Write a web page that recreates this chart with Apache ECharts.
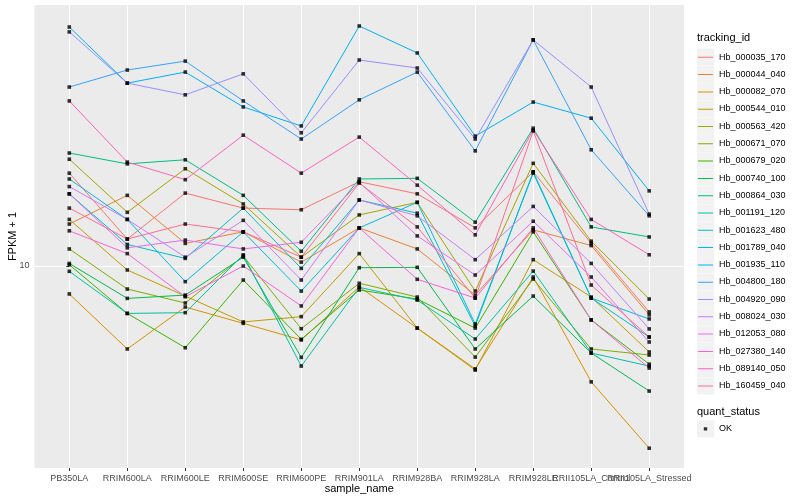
<!DOCTYPE html>
<html><head><meta charset="utf-8">
<script src="https://cdn.jsdelivr.net/npm/echarts@6/dist/echarts.min.js"></script>
<style>html,body{margin:0;padding:0;background:#fff}#c{width:800px;height:500px}</style>
</head><body><div id="c"></div>
<script>
// ---- data (FPKM + 1) ----
const categories = ['PB350LA','RRIM600LA','RRIM600LE','RRIM600SE','RRIM600PE','RRIM901LA','RRIM928BA','RRIM928LA','RRIM928LE','RRII105LA_Control','RRII105LA_Stressed'];
const trackingIds = ['Hb_000035_170','Hb_000044_040','Hb_000082_070','Hb_000544_010','Hb_000563_420','Hb_000671_070','Hb_000679_020','Hb_000740_100','Hb_000864_030','Hb_001191_120','Hb_001623_480','Hb_001789_040','Hb_001935_110','Hb_004800_180','Hb_004920_090','Hb_008024_030','Hb_012053_080','Hb_027380_140','Hb_089140_050','Hb_160459_040'];
const hb_000035_170 = [20.4, 12.3, 17.5, 15.6, 15.4, 19.1, 17.4, 13.4, 20.6, 11.9, 7.03];
const hb_000044_040 = [13.8, 17.2, 11.9, 13.0, 10.3, 13.4, 11.4, 8.00, 13.2, 11.7, 6.87];
const hb_000082_070 = [8.07, 5.29, 7.30, 6.44, 5.67, 8.53, 6.21, 4.54, 9.19, 4.11, 2.47];
const hb_000544_010 = [14.3, 9.70, 7.94, 6.51, 6.78, 11.0, 6.21, 4.50, 10.5, 7.88, 5.17];
const hb_000563_420 = [22.7, 15.1, 21.1, 16.1, 10.7, 14.8, 16.3, 8.25, 22.0, 12.1, 7.76];
const hb_000671_070 = [11.4, 8.38, 7.53, 10.8, 6.18, 8.76, 7.88, 4.97, 9.05, 5.29, 5.05];
const hb_000679_020 = [10.1, 6.95, 5.34, 8.98, 5.70, 8.32, 7.76, 6.21, 13.0, 6.61, 4.71];
const hb_000740_100 = [10.2, 7.80, 8.00, 10.7, 4.96, 9.87, 9.90, 5.29, 7.94, 5.13, 3.83];
const hb_000864_030 = [23.8, 21.9, 22.6, 17.2, 11.2, 19.5, 19.6, 14.0, 28.8, 13.5, 12.5];
const hb_001191_120 = [9.60, 6.95, 6.99, 10.9, 4.64, 8.49, 7.70, 5.71, 9.62, 5.13, 4.64];
const hb_001623_480 = [17.4, 11.8, 10.6, 15.6, 9.82, 16.6, 15.0, 6.31, 20.6, 7.82, 5.80];
const hb_001789_040 = [19.5, 14.3, 8.87, 13.0, 8.25, 13.4, 16.3, 6.41, 20.4, 7.82, 6.66];
const hb_001935_110 = [62.6, 40.7, 44.3, 33.9, 29.3, 63.1, 51.3, 27.1, 35.2, 31.1, 17.8];
const hb_004800_180 = [39.5, 45.0, 48.2, 35.5, 26.5, 35.8, 44.3, 24.2, 56.7, 24.4, 14.7];
const hb_004920_090 = [60.3, 40.7, 37.2, 43.7, 27.8, 48.6, 45.7, 26.5, 56.7, 39.5, 14.9];
const hb_008024_030 = [18.4, 14.3, 10.7, 14.2, 8.98, 16.6, 14.7, 10.5, 15.8, 10.2, 6.17];
const hb_012053_080 = [17.4, 11.5, 12.2, 11.4, 12.0, 19.0, 12.6, 9.33, 14.1, 9.19, 5.58];
const hb_027380_140 = [13.1, 11.0, 7.90, 10.0, 7.36, 13.4, 9.03, 7.82, 13.4, 6.61, 4.57];
const hb_089140_050 = [35.5, 22.2, 19.4, 27.3, 20.4, 26.9, 18.6, 12.7, 28.4, 14.3, 10.9];
const hb_160459_040 = [15.6, 12.3, 13.8, 13.0, 10.7, 18.9, 13.5, 7.82, 28.2, 8.64, 5.80];
const quantStatus = ['OK'];
const yTicks = [10];

// ---- styling ----
const palette = ['#F8766D','#EA8331','#D89000','#C09B00','#A3A500','#7CAE00','#39B600','#00BB4E','#00BF7D','#00C1A3','#00BFC4','#00BAE0','#00B0F6','#35A2FF','#9590FF','#C77CFF','#E76BF3','#FA62DB','#FF62BC','#FF6C91'];
const FONT = '"Liberation Sans", Arial, sans-serif';
const seriesValues = [hb_000035_170, hb_000044_040, hb_000082_070, hb_000544_010, hb_000563_420, hb_000671_070, hb_000679_020, hb_000740_100, hb_000864_030, hb_001191_120, hb_001623_480, hb_001789_040, hb_001935_110, hb_004800_180, hb_004920_090, hb_008024_030, hb_012053_080, hb_027380_140, hb_089140_050, hb_160459_040];
const catIdx = categories.map((_, i) => i);
const evenIdx = catIdx.filter(i => i % 2 === 0);
const oddIdx = catIdx.filter(i => i % 2 === 1);
const LINE_ICON = 'path://M0,0L0.01,0L0,0.01Z M1,8.2L16,8.2L16,9.2L1,9.2Z M17,17L16.99,17L17,16.99Z';
const DOT_ICON = 'path://M0,0L0.01,0L0,0.01Z M6.8,6.8L10.2,6.8L10.2,10.2L6.8,10.2Z M17,17L16.99,17L17,16.99Z';

const lineSeries = trackingIds.map((id, k) => ({
  name: id, type: 'line', symbol: 'none', showSymbol: false, silent: true, xAxisIndex: 0,
  data: seriesValues[k].map((v, i) => [i, v]),
  lineStyle: {width: 1, color: palette[k]}, itemStyle: {color: palette[k]}, z: 2
}));
const points = [];
seriesValues.forEach(arr => arr.forEach((v, i) => points.push([i, v])));
const pointSeries = {
  name: quantStatus[0], type: 'scatter', data: points, symbol: 'rect', symbolSize: 3.6, xAxisIndex: 0,
  itemStyle: {color: '#000'}, silent: true, z: 5
};

const graphics = [
  {type: 'text', left: 697, top: 32, style: {text: 'tracking_id', fontSize: 11, fill: '#000', fontFamily: FONT}},
  {type: 'text', left: 697, top: 406, style: {text: 'quant_status', fontSize: 11, fill: '#000', fontFamily: FONT}}
];
trackingIds.forEach((_, i) => graphics.push({type: 'rect', z: -1, shape: {x: 697, y: 48.6 + 17.3 * i, width: 17.3, height: 17}, style: {fill: '#F2F2F2'}}));
graphics.push({type: 'rect', z: -1, shape: {x: 697, y: 420.4, width: 17.3, height: 17}, style: {fill: '#F2F2F2'}});

const labelStyle = {formatter: v => categories[Math.round(v)], color: '#4D4D4D', fontSize: 9, margin: 6,
                    hideOverlap: false, showMinLabel: true, showMaxLabel: true, fontFamily: FONT};

const chart = echarts.init(document.getElementById('c'), null, {renderer: 'canvas'});
chart.setOption({
  animation: false,
  textStyle: {fontFamily: FONT},
  grid: {left: 34.5, right: 116, top: 5, bottom: 32, show: true, backgroundColor: '#EBEBEB', borderWidth: 0,
         containLabel: false, outerBoundsMode: 'none'},
  xAxis: [{
    type: 'value', min: -0.6, max: 10.6, position: 'bottom',
    axisLine: {show: false},
    axisTick: {show: true, length: 3, lineStyle: {color: '#333333'}, customValues: catIdx},
    axisLabel: Object.assign({customValues: evenIdx}, labelStyle),
    splitLine: {show: true, lineStyle: {color: '#FFFFFF', width: 1}},
    name: 'sample_name', nameLocation: 'middle', nameGap: 15, nameMoveOverlap: false,
    nameTextStyle: {color: '#000', fontSize: 11, fontFamily: FONT}
  }, {
    type: 'value', min: -0.6, max: 10.6, position: 'bottom', offset: 0,
    axisLine: {show: false},
    axisTick: {show: false, customValues: oddIdx},
    axisLabel: Object.assign({customValues: oddIdx}, labelStyle),
    splitLine: {show: false}
  }],
  yAxis: {
    type: 'log', logBase: 10, min: 2.122, max: 74.13,
    axisLine: {show: false},
    axisTick: {show: true, length: 3, lineStyle: {color: '#333333'}, customValues: yTicks},
    axisLabel: {customValues: yTicks, formatter: v => String(Math.round(v)), color: '#4D4D4D', fontSize: 9, margin: 5, fontFamily: FONT},
    splitLine: {show: true, lineStyle: {color: '#FFFFFF', width: 1}},
    name: 'FPKM + 1', nameLocation: 'middle', nameGap: 16, nameRotate: 90, nameMoveOverlap: false,
    nameTextStyle: {color: '#000', fontSize: 11, fontFamily: FONT}
  },
  legend: [
    {data: trackingIds, orient: 'vertical', left: 697, top: 48.6, padding: 0, itemWidth: 17, itemHeight: 17, itemGap: 0.3,
     icon: LINE_ICON, selectedMode: false, textStyle: {fontSize: 9, color: '#000', fontFamily: FONT}},
    {data: quantStatus, orient: 'vertical', left: 697, top: 420.4, padding: 0, itemWidth: 17, itemHeight: 17,
     icon: DOT_ICON, selectedMode: false, textStyle: {fontSize: 9, color: '#000', fontFamily: FONT}}
  ],
  graphic: graphics,
  series: lineSeries.concat([pointSeries])
});
</script></body></html>
